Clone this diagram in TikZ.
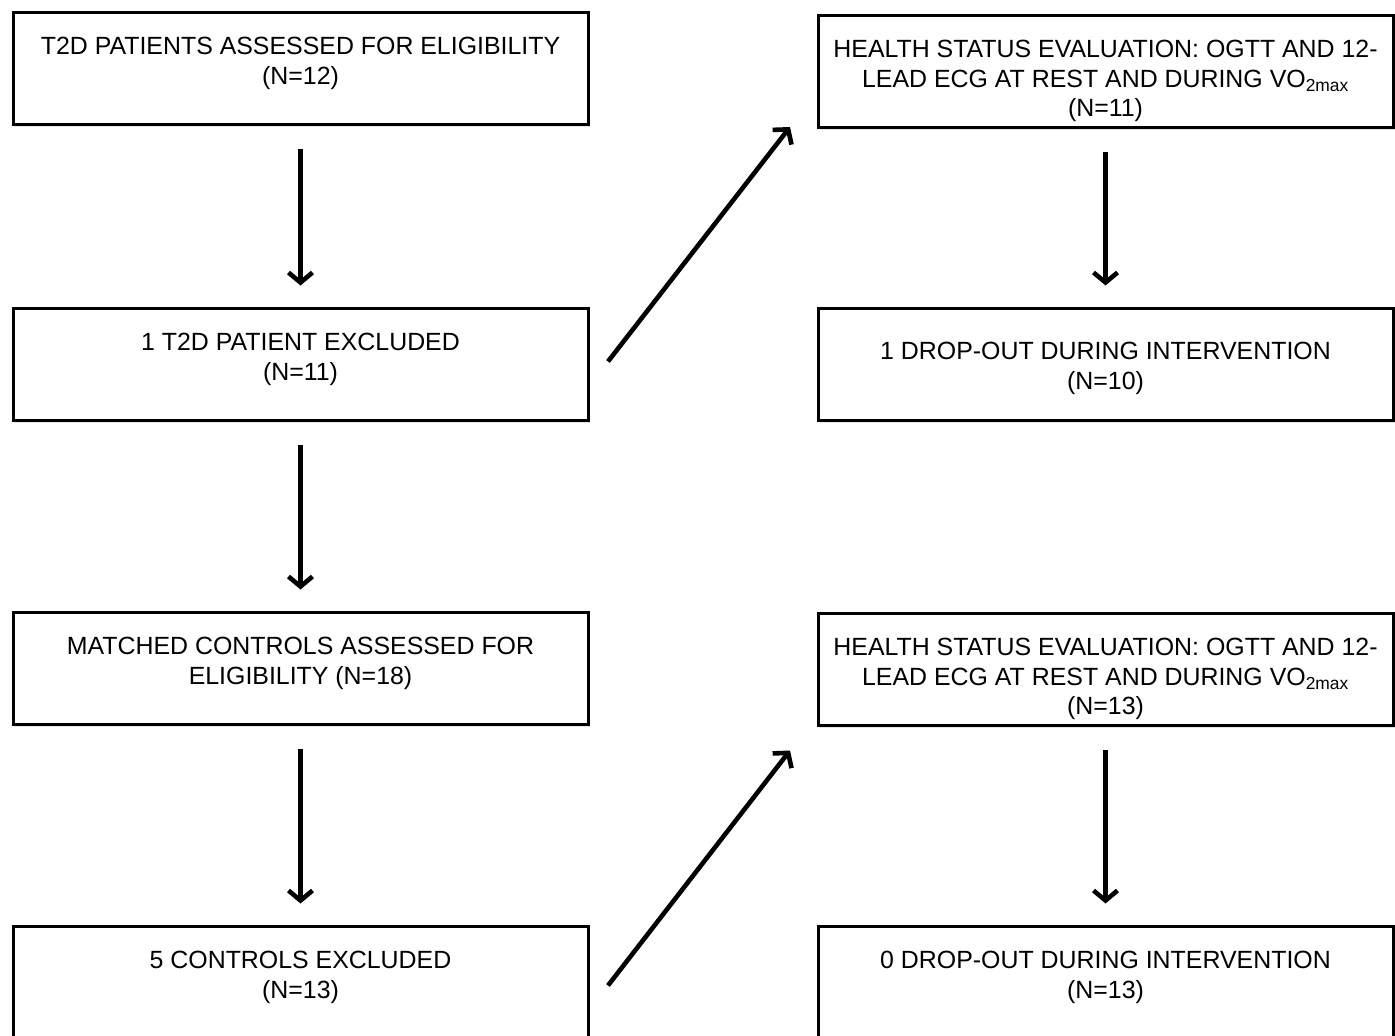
\documentclass[tikz,border=0pt]{standalone}
\usepackage{fontspec}
\setmainfont{Liberation Sans}
\usepackage{tikz}
\usetikzlibrary{arrows.meta,shadows}
\usetikzlibrary{positioning}
\newcommand{\stagetext}[2][25.5pt]{\parbox[c][112pt][t]{575pt}{\centering\vspace*{#1}#2}}
\tikzset{
    stage/.style={
           rectangle,
           draw=black, line width=3pt,
           fill=white,
           inner sep=0pt,
           anchor=north west,
           font=\fontsize{24.9pt}{29.5pt}\selectfont,
           drop shadow={shadow xshift=2pt, shadow yshift=-3pt, opacity=0.22},
           },
    flow/.style={
           line width=4.6pt,
           -{Straight Barb[length=10pt,width=24pt]},
           },
}

\begin{document}
\begin{tikzpicture}[x=1pt,y=-1pt]
 \useasboundingbox (0,0) rectangle (1395,1036);

 % left column
 \node[stage] (PA) at (11.5,10.5)
 {\stagetext{T2D PATIENTS ASSESSED FOR ELIGIBILITY\\(N=12)}};
 \node[stage] (PE) at (11.5,306.5)
 {\stagetext{1 T2D PATIENT EXCLUDED\\(N=11)}};
 \node[stage] (CA) at (11.5,610.5)
 {\stagetext{MATCHED CONTROLS ASSESSED FOR\\ELIGIBILITY (N=18)}};
 \node[stage] (CE) at (11.5,924.5)
 {\stagetext{5 CONTROLS EXCLUDED\\(N=13)}};

 % right column
 \node[stage] (PH) at (816.5,13.5)
 {\stagetext{HEALTH STATUS EVALUATION: OGTT AND 12-\\LEAD ECG AT REST AND DURING VO\textsubscript{2max}\\(N=11)}};
 \node[stage] (PD) at (816.5,306.5)
 {\stagetext[34.5pt]{1 DROP-OUT DURING INTERVENTION\\(N=10)}};
 \node[stage] (CH) at (816.5,611.5)
 {\stagetext{HEALTH STATUS EVALUATION: OGTT AND 12-\\LEAD ECG AT REST AND DURING VO\textsubscript{2max}\\(N=13)}};
 \node[stage] (CD) at (816.5,924.5)
 {\stagetext{0 DROP-OUT DURING INTERVENTION\\(N=13)}};

 % arrows
 \draw[flow, shorten <=23pt, shorten >=21pt] (PA) -- (PE);
 \draw[flow, shorten <=23pt, shorten >=21pt] (PE) -- (CA);
 \draw[flow, shorten <=23pt, shorten >=21pt] (CA) -- (CE);
 \draw[flow, shorten <=23pt, shorten >=21pt] (PH) -- (PD);
 \draw[flow, shorten <=23pt, shorten >=21pt] (CH) -- (CD);
 \draw[flow] ([xshift=18.5pt,yshift=2.5pt]PE.east) -- ([xshift=-26.5pt,yshift=1.5pt]PH.south west);
 \draw[flow] ([xshift=18.5pt,yshift=-3.5pt]CE.east) -- ([xshift=-26.5pt,yshift=-24pt]CH.south west);

\end{tikzpicture}
\end{document}
